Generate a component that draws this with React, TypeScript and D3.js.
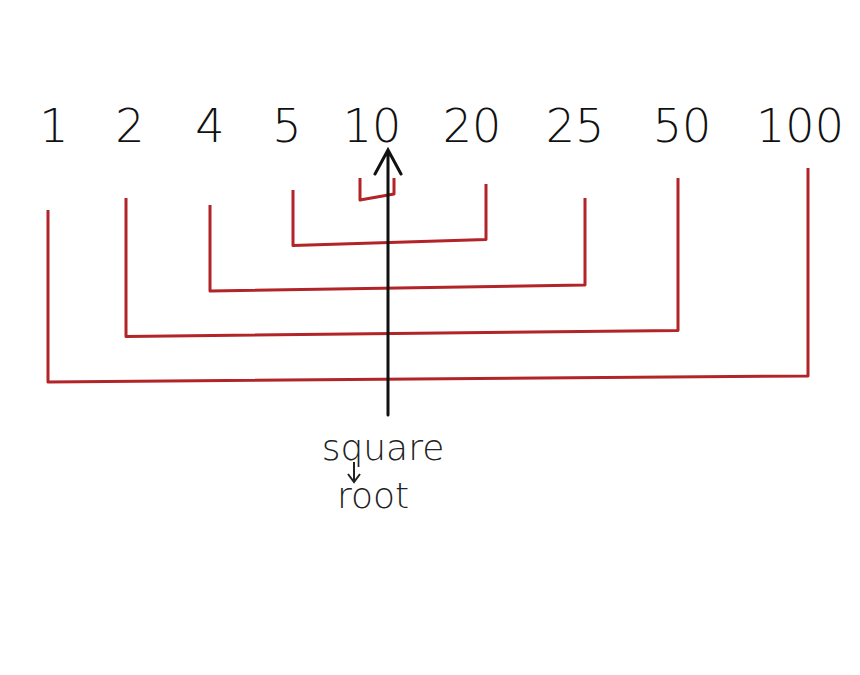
import React from "react";
import * as d3 from "d3";

const divisors = ["1", "2", "4", "5", "10", "20", "25", "50", "100"];
const pairs: [string, string][] = [["1", "100"], ["2", "50"], ["4", "25"], ["5", "20"], ["10", "10"]];
const caption = ["square", "root"];

export default function App() {
  const W = 860, H = 675;
  const x = d3.scaleOrdinal<string, number>().domain(divisors).range([54, 130, 210, 287, 372, 472, 575, 682, 800]);
  const depth = d3.scaleLinear().domain([0, 4]).range([382, 200]);
  const red = "#b22428";
  const mid = 388;
  const legs: [number, number, number, number][] = [
    [-6, 210, 8, 168], [-4, 198, -4, 178], [0, 205, 10, 198], [6, 190, 14, 184], [-12, 178, 22, 178],
  ];
  return (
    <svg width={W} height={H} style={{ position: "absolute", left: 0, top: 0, background: "#fff" }}>
      {divisors.map((d) => (
        <text key={d} x={x(d)} y={142} textAnchor="middle" fontSize={46} fontFamily="'DejaVu Sans', sans-serif" fill="#111" fontWeight={300}>{d}</text>
      ))}
      {pairs.map(([a, b], i) => {
        const [oa, ta, ob, tb] = legs[i];
        const xa = x(a) + oa;
        const xb = x(b) + ob;
        const y = depth(i);
        return <path key={a} d={`M${xa},${ta} L${xa},${y} L${xb},${y - 6} L${xb},${tb}`} fill="none" stroke={red} strokeWidth={3} strokeLinejoin="round" />;
      })}
      <path d={`M${mid},415 L${mid},150 M${mid - 13},174 L${mid},150 L${mid + 13},174`} fill="none" stroke="#111" strokeWidth={3} strokeLinecap="round" />
      <text x={383} y={460} textAnchor="middle" fontSize={36} fontFamily="'DejaVu Sans', sans-serif" fill="#222" fontWeight={300}>{caption[0]}</text>
      <path d={`M354,462 L354,482 M348,474 L354,482 L360,474`} fill="none" stroke="#222" strokeWidth={2} />
      <text x={373} y={508} textAnchor="middle" fontSize={36} fontFamily="'DejaVu Sans', sans-serif" fill="#222" fontWeight={300}>{caption[1]}</text>
    </svg>
  );
}
